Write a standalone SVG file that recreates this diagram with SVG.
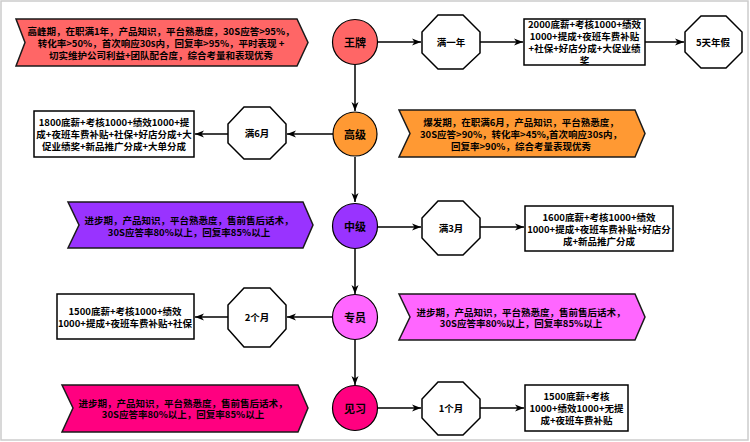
<svg xmlns="http://www.w3.org/2000/svg" width="750" height="442" viewBox="0 0 750 442">
<defs>
<marker id="arr" markerWidth="10" markerHeight="8" refX="9" refY="4" orient="auto" markerUnits="userSpaceOnUse">
<path d="M0,0.5 L9,4 L0,7.5 L2.5,4 z" fill="#000"/>
</marker>
<style>
text{font-family:"Noto Sans CJK SC","Liberation Sans",sans-serif;font-weight:bold;fill:#000;text-anchor:middle;dominant-baseline:central}
.t{font-size:9.5px}
.c{font-size:11px}
.ban{stroke:#1a1a1a;stroke-width:1.5}
.box{fill:#fff;stroke:#000;stroke-width:1.5}
.circ{stroke:#000;stroke-width:1.2}
.ln{stroke:#000;stroke-width:1.5;fill:none;marker-end:url(#arr)}
</style>
</defs>
<rect x="1" y="1" width="747" height="439" fill="#fff" stroke="#cccccc" stroke-width="1.5"/>

<g id="connectors">
<path class="ln" d="M377,42 L421,42"/>
<path class="ln" d="M480,42 L523,42"/>
<path class="ln" d="M645,42 L684,42"/>
<path class="ln" d="M355,65 L355,111"/>
<path class="ln" d="M333,134 L287,134"/>
<path class="ln" d="M228,134 L195,134"/>
<path class="ln" d="M355,157 L355,202"/>
<path class="ln" d="M377,227 L421,227"/>
<path class="ln" d="M480,227 L524,227"/>
<path class="ln" d="M355,249 L355,294"/>
<path class="ln" d="M333,317 L287,317"/>
<path class="ln" d="M228,317 L195,317"/>
<path class="ln" d="M355,340 L355,385"/>
<path class="ln" d="M377,408 L421,408"/>
<path class="ln" d="M480,408 L524,408"/>
</g>

<g id="banner-wangpai">
<polygon class="ban" fill="#FF6666" points="16,19 297,19 308,42.5 297,66 16,66 25,42.5"/>
<text class="t" x="161" y="31">高峰期，在职满1年，产品知识，平台熟悉度，30S应答&gt;95%，</text>
<text class="t" x="161" y="43">转化率&gt;50%，首次响应30s内，回复率&gt;95%，平时表现 +</text>
<text class="t" x="161" y="55">切实维护公司利益+团队配合度，综合考量和表现优秀</text>
</g>
<g id="node-wangpai">
<circle class="circ" cx="355" cy="42" r="22.5" fill="#FF6666"/>
<text class="c" x="355" y="42">王牌</text>
</g>
<g id="oct-1year">
<polygon class="box" points="438,15 463,15 480,32 480,53 463,69 438,69 422,53 422,32"/>
<text class="t" x="451" y="42">满一年</text>
</g>
<g id="box-2000">
<rect class="box" x="524" y="19" width="121" height="46"/>
<text class="t" x="584.5" y="24">2000底薪+考核1000+绩效</text>
<text class="t" x="584.5" y="36">1000+提成+夜班车费补贴</text>
<text class="t" x="584.5" y="48">+社保+好店分成+大促业绩</text>
<text class="t" x="584.5" y="60">奖</text>
</g>
<g id="oct-5days">
<polygon class="box" points="701,16 726,16 742,32 742,52 726,68 701,68 685,52 685,32"/>
<text class="t" x="713" y="42">5天年假</text>
</g>

<g id="node-gaoji">
<circle class="circ" cx="355" cy="134" r="22" fill="#FF9933"/>
<text class="c" x="355" y="134">高级</text>
</g>
<g id="oct-6months">
<polygon class="box" points="244,107 270,107 286,124 286,143 270,159 244,159 228,143 228,124"/>
<text class="t" x="257" y="133">满6月</text>
</g>
<g id="box-1800">
<rect class="box" x="34" y="111" width="160" height="46"/>
<text class="t" x="114" y="122">1800底薪+考核1000+绩效1000+提</text>
<text class="t" x="114" y="134">成+夜班车费补贴+社保+好店分成+大</text>
<text class="t" x="114" y="146">促业绩奖+新品推广分成+大单分成</text>
</g>
<g id="banner-gaoji">
<polygon class="ban" fill="#FF9933" points="399,110 635,110 645,133.5 635,157 399,157 410,133.5"/>
<text class="t" x="521" y="122">爆发期，在职满6月，产品知识，平台熟悉度，</text>
<text class="t" x="521" y="134">30S应答&gt;90%，转化率&gt;45%,首次响应30s内，</text>
<text class="t" x="521" y="146">回复率&gt;90%，综合考量表现优秀</text>
</g>

<g id="banner-zhongji">
<polygon class="ban" fill="#9933FF" points="68,202 303,202 313,225 303,248 68,248 79,225"/>
<text class="t" x="189" y="220">进步期，产品知识，平台熟悉度，售前售后话术，</text>
<text class="t" x="189" y="232">30S应答率80%以上，回复率85%以上</text>
</g>
<g id="node-zhongji">
<circle class="circ" cx="355" cy="226" r="22.5" fill="#9933FF"/>
<text class="c" x="355" y="226">中级</text>
</g>
<g id="oct-3months">
<polygon class="box" points="438,201 463,201 480,218 480,238 463,255 438,255 422,238 422,218"/>
<text class="t" x="451" y="228">满3月</text>
</g>
<g id="box-1600">
<rect class="box" x="525" y="206" width="148" height="45"/>
<text class="t" x="599" y="217">1600底薪+考核1000+绩效</text>
<text class="t" x="599" y="229">1000+提成+夜班车费补贴+好店分</text>
<text class="t" x="599" y="241">成+新品推广分成</text>
</g>

<g id="node-zhuanyuan">
<circle class="circ" cx="355" cy="317" r="22.5" fill="#FF66FF"/>
<text class="c" x="355" y="317">专员</text>
</g>
<g id="oct-2months">
<polygon class="box" points="244,288 270,288 286,305 286,329 270,347 244,347 228,329 228,305"/>
<text class="t" x="257" y="317">2个月</text>
</g>
<g id="box-1500a">
<rect class="box" x="57" y="294" width="137" height="45"/>
<text class="t" x="125" y="311">1500底薪+考核1000+绩效</text>
<text class="t" x="125" y="323">1000+提成+夜班车费补贴+社保</text>
</g>
<g id="banner-zhuanyuan">
<polygon class="ban" fill="#FF66FF" points="399,294 635,294 645,317 635,340 399,340 410,317"/>
<text class="t" x="521" y="312">进步期，产品知识，平台熟悉度，售前售后话术，</text>
<text class="t" x="521" y="323">30S应答率80%以上，回复率85%以上</text>
</g>

<g id="banner-jianxi">
<polygon class="ban" fill="#FF0080" points="62,385 298,385 308,408 298,432 62,432 73,408"/>
<text class="t" x="183" y="403">进步期，产品知识，平台熟悉度，售前售后话术，</text>
<text class="t" x="183" y="414">30S应答率80%以上，回复率85%以上</text>
</g>
<g id="node-jianxi">
<circle class="circ" cx="355" cy="408" r="22.5" fill="#FF0080"/>
<text class="c" x="355" y="408">见习</text>
</g>
<g id="oct-1month">
<polygon class="box" points="438,382 463,382 480,399 480,418 463,435 438,435 422,418 422,399"/>
<text class="t" x="451" y="408">1个月</text>
</g>
<g id="box-1500b">
<rect class="box" x="525" y="385" width="103" height="46"/>
<text class="t" x="576.5" y="396">1500底薪+考核</text>
<text class="t" x="576.5" y="408">1000+绩效1000+无提</text>
<text class="t" x="576.5" y="420">成+夜班车费补贴</text>
</g>
</svg>
